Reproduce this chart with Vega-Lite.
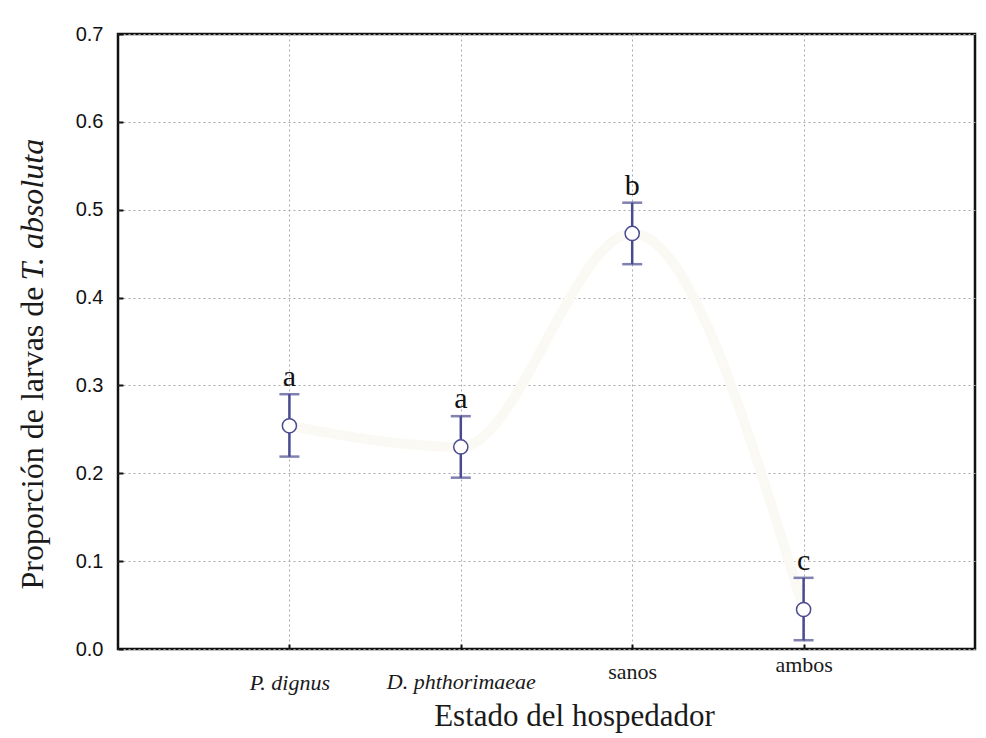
{
  "$schema": "https://vega.github.io/schema/vega-lite/v6.json",
  "width": 857,
  "height": 615,
  "autosize": {"type": "none"},
  "padding": {"left": 118, "top": 34, "right": 11, "bottom": 89},
  "background": "white",
  "config": {
    "view": {"stroke": "#111111", "strokeWidth": 2.5},
    "axis": {"domain": false}
  },
  "data": {
    "values": [
      {"estado": "P. dignus", "media": 0.254, "lower": 0.219, "upper": 0.290, "letra": "a"},
      {"estado": "D. phthorimaeae", "media": 0.230, "lower": 0.195, "upper": 0.265, "letra": "a"},
      {"estado": "sanos", "media": 0.473, "lower": 0.438, "upper": 0.508, "letra": "b"},
      {"estado": "ambos", "media": 0.045, "lower": 0.010, "upper": 0.081, "letra": "c"}
    ]
  },
  "encoding": {
    "x": {
      "field": "estado",
      "type": "ordinal",
      "sort": ["P. dignus", "D. phthorimaeae", "sanos", "ambos"],
      "scale": {"type": "point", "padding": 1},
      "axis": {
        "title": "Estado del hospedador",
        "titleFont": "Liberation Serif",
        "titleFontSize": 31,
        "titleFontWeight": "normal",
        "titleColor": "#1a1a1a",
        "titleX": 456,
        "titleY": 76,
        "titleAlign": "center",
        "titleBaseline": "alphabetic",
        "labelFont": "Liberation Serif",
        "labelFontSize": 22,
        "labelColor": "#1a1a1a",
        "labelAngle": 0,
        "labelBaseline": "alphabetic",
        "labelFontStyle": {"condition": {"test": "datum.value == 'sanos' || datum.value == 'ambos'", "value": "normal"}, "value": "italic"},
        "labelPadding": {"condition": [
          {"test": "datum.value == 'ambos'", "value": 27},
          {"test": "datum.value == 'sanos'", "value": 34},
          {"test": "datum.value == 'P. dignus'", "value": 45}
        ], "value": 44},
        "tickSize": -5,
        "tickColor": "#111111",
        "tickWidth": 2,
        "grid": true,
        "gridColor": "#aaaaaa",
        "gridDash": [2, 3],
        "gridWidth": 1
      }
    }
  },
  "layer": [
    {
      "layer": [
        {
          "mark": {"type": "line", "color": "#fbf9f3", "strokeWidth": 10, "interpolate": "monotone"},
          "encoding": {
            "y": {
              "field": "media",
              "type": "quantitative",
              "scale": {"domain": [0, 0.7], "nice": false},
              "axis": {
                "values": [0, 0.1, 0.2, 0.3, 0.4, 0.5, 0.6, 0.7],
                "format": ".1f",
                "labelFont": "Liberation Sans",
                "labelFontSize": 20,
                "labelColor": "#111111",
                "labelPadding": 20,
                "tickSize": -5,
                "tickColor": "#111111",
                "tickWidth": 2,
                "grid": true,
                "gridColor": "#aaaaaa",
                "gridDash": [2, 3],
                "gridWidth": 1,
                "title": "Proporción de larvas de",
                "titleFont": "Liberation Serif",
                "titleFontSize": 32,
                "titleFontWeight": "normal",
                "titleColor": "#1a1a1a",
                "titleAngle": -90,
                "titleX": -76,
                "titleY": 252,
                "titleAlign": "right",
                "titleBaseline": "alphabetic"
              }
            }
          }
        },
        {
          "mark": {"type": "rule", "color": "#4a4a90", "strokeWidth": 2.5},
          "encoding": {
            "y": {"field": "lower", "type": "quantitative"},
            "y2": {"field": "upper"}
          }
        },
        {
          "mark": {"type": "tick", "color": "#4a4a90", "thickness": 2.5, "size": 20},
          "encoding": {"y": {"field": "lower", "type": "quantitative"}}
        },
        {
          "mark": {"type": "tick", "color": "#4a4a90", "thickness": 2.5, "size": 20},
          "encoding": {"y": {"field": "upper", "type": "quantitative"}}
        },
        {
          "mark": {"type": "point", "shape": "circle", "filled": true, "fill": "white", "stroke": "#4a4a90", "strokeWidth": 1.5, "size": 200, "opacity": 1},
          "encoding": {"y": {"field": "media", "type": "quantitative"}}
        },
        {
          "mark": {"type": "text", "font": "Liberation Serif", "fontSize": 30, "color": "#111111", "baseline": "alphabetic", "dy": -8},
          "encoding": {
            "y": {"field": "upper", "type": "quantitative"},
            "text": {"field": "letra"}
          }
        }
      ]
    },
    {
      "mark": {"type": "point", "opacity": 0},
      "encoding": {
        "y": {
          "field": "media",
          "type": "quantitative",
          "scale": {"domain": [0, 0.7], "nice": false},
          "axis": {
            "orient": "left",
            "labels": false,
            "ticks": false,
            "domain": false,
            "grid": false,
            "title": "T. absoluta",
            "titleFont": "Liberation Serif",
            "titleFontSize": 32,
            "titleFontStyle": "italic",
            "titleFontWeight": "normal",
            "titleColor": "#1a1a1a",
            "titleAngle": -90,
            "titleX": -76,
            "titleY": 246,
            "titleAlign": "left",
            "titleBaseline": "alphabetic"
          }
        }
      }
    }
  ],
  "resolve": {"scale": {"y": "independent"}}
}
